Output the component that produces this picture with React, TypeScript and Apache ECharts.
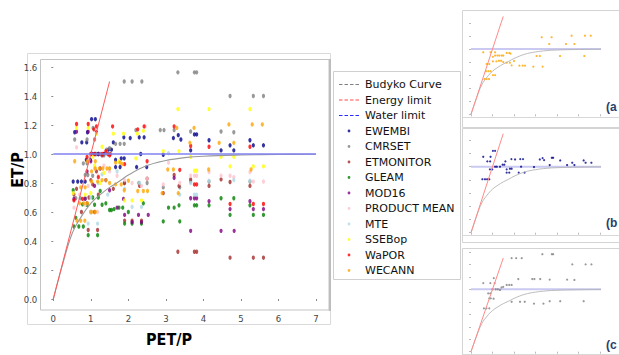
import React, { useEffect, useRef } from "react";
import * as echarts from "echarts";

// ---------- data ----------
const X_TICK_VALUES = [0, 1, 2, 3, 4, 5, 6, 7];
const Y_TICK_VALUES = [0, 0.2, 0.4, 0.6, 0.8, 1.0, 1.2, 1.4, 1.6];

const BUDYKO_X = [0, 0.25, 0.5, 0.75, 1.0, 1.25, 1.5, 1.75, 2.0, 2.5, 3.0, 3.5, 4.0, 5.0, 6.0, 7.0];
const BUDYKO_Y = [0, 0.24, 0.45, 0.57, 0.66, 0.72, 0.77, 0.81, 0.855, 0.92, 0.955, 0.975, 0.985, 0.993, 0.997, 0.998];
const ENERGY_X = [0, 1.5];
const ENERGY_Y = [0, 1.5];
const WATER_X = [0, 7];
const WATER_Y = [1, 1];

const PRODUCTS = ["EWEMBI", "CMRSET", "ETMONITOR", "GLEAM", "MOD16", "PRODUCT MEAN", "MTE", "SSEBop", "WaPOR", "WECANN"];

const EWEMBI = [
  [0.57, 1.15], [0.91, 1.15], [1.02, 1.24], [1.12, 1.24], [0.76, 1.08], [0.89, 1.08], [0.53, 0.81], [0.65, 0.81],
  [0.75, 0.81], [0.85, 0.81], [0.88, 0.96], [0.99, 0.96], [1.12, 1.0], [1.2, 1.0], [1.35, 1.0], [1.47, 1.03],
  [1.55, 1.03], [1.6, 1.08], [1.66, 0.96], [1.81, 0.97], [1.89, 0.97], [1.66, 0.91], [1.78, 0.91], [2.22, 0.91],
  [2.49, 0.91], [1.88, 1.115], [2.05, 1.11], [2.29, 1.115], [2.42, 1.115], [2.33, 1.0], [2.93, 0.995], [3.2, 1.11],
  [3.33, 1.13], [3.4, 1.1], [3.66, 1.025], [3.76, 1.135], [3.82, 1.135], [4.15, 1.095], [4.47, 1.025], [4.71, 1.06],
  [4.81, 1.025], [5.24, 1.095], [5.33, 1.06], [5.6, 1.06],
];
const CMRSET = [
  [0.57, 1.1], [0.9, 1.1], [1.06, 1.18], [1.1, 1.1], [0.8, 0.935], [0.9, 0.935], [0.85, 0.855], [0.92, 0.855],
  [1.05, 0.85], [0.6, 0.695], [0.72, 0.695], [0.85, 0.695], [1.0, 1.0], [1.15, 1.0], [1.25, 1.0], [1.35, 0.99],
  [1.42, 1.03], [1.5, 1.04], [1.66, 1.07], [1.78, 1.07], [1.89, 1.07], [1.89, 1.5], [2.1, 1.5], [2.36, 1.5],
  [2.2, 1.165], [2.85, 1.165], [2.95, 1.165], [3.22, 1.165], [3.66, 1.155], [4.47, 1.155], [4.81, 1.15],
  [3.32, 1.563], [3.76, 1.563], [3.82, 1.563], [4.71, 1.4], [5.33, 1.4], [5.6, 1.4], [1.89, 0.8], [2.28, 0.8],
  [2.5, 0.8], [2.93, 0.77], [3.37, 0.77], [4.15, 0.81], [5.24, 0.81], [3.66, 0.81],
];
const ETMONITOR = [
  [0.55, 0.72], [0.62, 0.76], [0.9, 0.66], [0.93, 0.476], [1.18, 0.476], [1.0, 0.82], [1.15, 0.88], [1.3, 0.99],
  [1.45, 1.0], [1.52, 1.0], [1.2, 0.72], [1.6, 0.76], [1.9, 0.8], [1.9, 0.54], [2.1, 0.54], [2.35, 0.54], [2.3, 0.78],
  [2.5, 0.83], [0.75, 0.6], [1.1, 0.6], [1.05, 0.79], [0.95, 0.7], [2.93, 0.73], [3.22, 0.855], [3.35, 0.78],
  [3.32, 0.326], [3.66, 0.825], [3.76, 0.326], [3.82, 0.326], [4.15, 0.78], [4.47, 0.825], [4.71, 0.807],
  [4.71, 0.285], [5.24, 0.78], [5.33, 0.285], [5.6, 0.285],
];
const GLEAM = [
  [0.53, 0.75], [0.55, 0.5], [0.68, 0.5], [0.8, 0.5], [0.78, 0.653], [0.9, 0.65], [0.93, 0.44], [1.18, 0.44],
  [1.0, 0.6], [1.05, 0.7], [1.1, 0.65], [1.25, 0.745], [1.3, 0.65], [1.4, 0.66], [1.5, 0.614], [1.55, 0.614],
  [1.62, 0.62], [1.75, 0.63], [1.85, 0.63], [1.9, 0.52], [2.1, 0.52], [2.35, 0.52], [2.0, 0.6], [2.4, 0.66],
  [0.6, 0.56], [1.2, 0.7], [2.93, 0.535], [3.07, 0.63], [3.22, 0.63], [3.35, 0.646], [3.37, 0.535], [3.76, 0.646],
  [3.82, 0.646], [4.15, 0.646], [4.47, 0.695], [4.71, 0.58], [4.81, 0.695], [5.24, 0.646], [5.33, 0.58], [5.6, 0.58],
];
const MOD16 = [
  [0.62, 1.154], [0.93, 1.154], [1.15, 1.15], [0.55, 0.69], [0.85, 0.69], [1.0, 0.95], [1.05, 1.0], [1.2, 1.0],
  [1.25, 0.9], [1.4, 0.82], [1.5, 0.75], [1.87, 0.69], [1.9, 0.58], [2.27, 0.58], [2.53, 0.58], [2.1, 0.53],
  [2.35, 0.53], [1.1, 0.78], [1.7, 0.63], [0.9, 0.88], [3.22, 0.835], [3.66, 0.695], [3.66, 0.47], [3.76, 0.695],
  [3.82, 0.695], [4.15, 0.674], [4.47, 0.47], [4.71, 0.62], [4.82, 0.47], [5.24, 0.674], [5.33, 0.62], [5.6, 0.62],
];
const PRODUCT_MEAN = [
  [0.62, 1.046], [0.55, 0.63], [0.7, 0.72], [0.93, 0.78], [1.0, 0.6], [1.18, 0.6], [1.1, 0.9], [1.2, 0.85],
  [1.35, 0.92], [1.5, 0.88], [1.7, 0.85], [1.9, 0.82], [2.1, 0.8], [2.35, 0.78], [2.5, 0.83], [2.45, 1.19],
  [0.85, 0.65], [0.95, 0.96], [2.93, 0.79], [3.07, 0.94], [3.37, 0.8], [3.66, 0.85], [3.76, 0.85], [3.82, 0.85],
  [4.15, 0.875], [4.47, 0.85], [4.71, 0.85], [4.81, 0.84], [5.24, 0.875], [5.33, 0.81], [5.6, 0.81],
];
const MTE = [
  [0.93, 0.52], [1.18, 0.52], [1.0, 0.7], [1.2, 0.8], [1.3, 0.86], [1.5, 0.9], [1.7, 0.88], [2.1, 0.635],
  [2.35, 0.635], [1.9, 0.76], [2.3, 0.8], [1.45, 0.72], [3.07, 1.005], [3.37, 0.72], [3.66, 0.8], [3.76, 0.72],
  [3.82, 0.72], [4.15, 0.816], [5.24, 0.816], [4.81, 0.82],
];
const SSEBOP = [
  [0.53, 0.73], [0.62, 1.18], [0.93, 1.18], [1.05, 0.98], [1.1, 0.92], [1.15, 1.14], [1.3, 1.05], [1.35, 0.87],
  [1.6, 1.14], [1.87, 1.14], [2.24, 1.14], [2.4, 1.16], [1.9, 0.68], [2.1, 0.68], [2.35, 0.68], [1.0, 0.73],
  [1.25, 0.8], [1.75, 0.95], [2.2, 0.97], [0.85, 0.72], [2.93, 1.02], [3.35, 1.02], [3.32, 1.31], [3.66, 0.98],
  [3.76, 0.885], [3.82, 0.885], [4.15, 1.31], [4.47, 0.98], [4.71, 0.915], [4.81, 0.98], [5.24, 1.31],
  [5.33, 0.915], [5.6, 0.915],
];
const WAPOR = [
  [0.62, 1.207], [0.93, 1.207], [1.08, 1.17], [1.15, 1.19], [1.58, 1.19], [0.9, 0.98], [1.0, 1.0], [1.1, 1.0],
  [1.3, 1.0], [1.4, 1.02], [1.5, 0.99], [0.78, 0.69], [0.55, 0.68], [2.42, 1.19], [2.5, 0.95], [1.2, 0.84],
  [1.9, 0.93], [2.25, 1.17], [3.22, 1.19], [3.37, 0.89], [3.66, 1.055], [3.76, 0.79], [3.82, 0.79], [4.15, 1.05],
  [4.71, 0.655], [5.24, 1.05], [5.33, 0.655], [5.6, 0.655],
];
const WECANN = [
  [0.57, 0.95], [0.91, 0.95], [1.12, 0.95], [0.73, 0.77], [0.85, 0.77], [0.7, 0.66], [0.81, 0.66], [0.91, 0.66],
  [1.02, 0.6], [1.12, 0.6], [0.63, 0.54], [0.73, 0.54], [0.84, 0.54], [1.02, 0.88], [1.12, 0.9], [1.23, 0.9],
  [1.32, 0.9], [1.43, 0.9], [1.5, 0.9], [1.66, 0.94], [1.78, 0.94], [1.84, 0.93], [1.02, 0.81], [1.18, 0.81],
  [1.3, 0.82], [1.4, 0.82], [1.5, 0.8], [1.66, 0.79], [1.81, 0.79], [1.89, 0.75], [2.0, 0.816], [2.25, 0.745],
  [2.4, 0.745], [2.51, 0.745], [2.9, 0.73], [3.33, 0.73], [3.05, 0.893], [3.2, 0.893], [4.14, 0.893], [5.27, 0.893],
  [3.29, 1.18], [3.75, 1.18], [3.64, 1.077], [4.42, 1.077], [4.81, 1.077], [4.68, 1.204], [5.3, 1.204], [5.57, 1.204],
];

const PRODUCT_DATA = [EWEMBI, CMRSET, ETMONITOR, GLEAM, MOD16, PRODUCT_MEAN, MTE, SSEBOP, WAPOR, WECANN];
const CURVE_NAMES = ["Budyko Curve", "Energy limit", "Water limit"];
const PANEL_LABELS = ["(a", "(b", "(c"];
const PANEL_PRODUCTS = ["WECANN", "EWEMBI", "CMRSET"];

// ---------- styles ----------
const COLORS: Record<string, string> = {
  EWEMBI: "#00008b",
  CMRSET: "#808080",
  ETMONITOR: "#a52a2a",
  GLEAM: "#008000",
  MOD16: "#800080",
  "PRODUCT MEAN": "#ffc0cb",
  MTE: "#add8e6",
  SSEBop: "#ffff00",
  WaPOR: "#ff0000",
  WECANN: "#ffa500",
};
const LEGEND_LINE_COLORS = ["#808080", "#ff4d4d", "#2b2bff"];
const NARROW = '"Liberation Sans Narrow","DejaVu Sans Condensed","Arial Narrow",sans-serif';
const DOT_ICON = "path://M0,0M20,11M11.4,5.5A1.4,1.4,0,1,1,8.6,5.5A1.4,1.4,0,1,1,11.4,5.5Z";
const DASH_ICON = "path://M0,0M20,11M0,5h3.5v1.1h-3.5zM5.5,5h3.5v1.1h-3.5zM11,5h3.5v1.1h-3.5zM16.5,5h3.5v1.1h-3.5z";

const PANELS = [
  { grid: { left: 471, right: 19, top: 22.9, bottom: 240.7 }, ymax: 1.4, frame: [462.5, 10.5, 160, 117], axisY: 117.5, labelY: 106.7 },
  { grid: { left: 471, right: 19, top: 140.3, bottom: 122.3 }, ymax: 1.4, frame: [462.5, 128.5, 160, 114], axisY: 235.5, labelY: 223.3 },
  { grid: { left: 471, right: 19, top: 251.9, bottom: 3.3 }, ymax: 1.6, frame: [462.5, 248.5, 160, 110], axisY: 354.5, labelY: 344.5 },
];

const zip = (xs: number[], ys: number[]) => xs.map((x, i) => [x, ys[i]]);

export default function App() {
  const ref = useRef<HTMLDivElement>(null);
  useEffect(() => {
    if (!ref.current) return;
    const chart = echarts.init(ref.current, undefined, { renderer: "svg" });

    const grids: any[] = [{ left: 53.3, right: 303, top: 67, bottom: 56 }];
    const xAxes: any[] = [
      {
        gridIndex: 0, type: "value", min: X_TICK_VALUES[0], max: X_TICK_VALUES[X_TICK_VALUES.length - 1], interval: 1, offset: 11,
        axisLine: { show: false }, splitLine: { show: false },
        axisTick: { show: true, length: 2, lineStyle: { color: "#888" } },
        axisLabel: { margin: 3, fontSize: 9.5, color: "#444", fontFamily: NARROW, formatter: (v: number) => String(v) },
      },
    ];
    const yAxes: any[] = [
      {
        gridIndex: 0, type: "value", min: Y_TICK_VALUES[0], max: Y_TICK_VALUES[Y_TICK_VALUES.length - 1], interval: 0.2, offset: 13,
        axisLine: { show: false }, splitLine: { show: false },
        axisTick: { show: true, length: 2, lineStyle: { color: "#888" } },
        axisLabel: { margin: 3, fontSize: 9.5, color: "#444", fontFamily: NARROW, formatter: (v: number) => v.toFixed(1) },
      },
    ];

    const series: any[] = [
      { name: CURVE_NAMES[0], type: "line", xAxisIndex: 0, yAxisIndex: 0, data: zip(BUDYKO_X, BUDYKO_Y), smooth: 0.4, symbol: "none", z: 4, itemStyle: { color: "#9a9a9a" }, lineStyle: { color: "#9a9a9a", width: 1.1 } },
      { name: CURVE_NAMES[1], type: "line", xAxisIndex: 0, yAxisIndex: 0, data: zip(ENERGY_X, ENERGY_Y), symbol: "none", z: 4, itemStyle: { color: "#ff5a5a" }, lineStyle: { color: "#ff5a5a", width: 1 } },
      { name: CURVE_NAMES[2], type: "line", xAxisIndex: 0, yAxisIndex: 0, data: zip(WATER_X, WATER_Y), symbol: "none", z: 4, itemStyle: { color: "#8080f0" }, lineStyle: { color: "#8080f0", width: 1.6 } },
    ];
    PRODUCTS.forEach((p, i) => {
      series.push({
        name: p, type: "scatter", xAxisIndex: 0, yAxisIndex: 0, data: PRODUCT_DATA[i],
        symbol: "circle", symbolSize: [3.2, 4.4], itemStyle: { color: COLORS[p] }, z: 3,
      });
    });

    const graphics: any[] = [
      { type: "rect", shape: { x: 27.5, y: 53.5, width: 303, height: 271 }, style: { fill: "none", stroke: "#dadada", lineWidth: 1 }, z: -1 },
      { type: "rect", shape: { x: 40.5, y: 59.5, width: 288.5, height: 250.5 }, style: { fill: "none", stroke: "#c4c4c4", lineWidth: 1 }, z: -1 },
      { type: "line", shape: { x1: 330, y1: 59, x2: 330, y2: 311 }, style: { stroke: "#bdbdbd", lineWidth: 2 }, z: -1 },
      { type: "rect", shape: { x: 333.5, y: 71.5, width: 127, height: 208 }, style: { fill: "#fff", stroke: "#cfcfcf", lineWidth: 1 }, z: -1 },
      {
        type: "text", x: 17.5, y: 170, rotation: Math.PI / 2,
        style: { text: "ET/P", fontSize: 16, fontWeight: "bold", fontFamily: NARROW, fill: "#000", align: "center", verticalAlign: "middle" },
      },
      {
        type: "text", x: 169, y: 339,
        style: { text: "PET/P", fontSize: 16, fontWeight: "bold", fontFamily: NARROW, fill: "#000", align: "center", verticalAlign: "middle" },
      },
    ];

    PANELS.forEach((pn, k) => {
      const gi = k + 1;
      grids.push({ ...pn.grid });
      xAxes.push({
        gridIndex: gi, type: "value", min: 0, max: 6, interval: 1, offset: 3,
        axisLine: { show: false }, splitLine: { show: false },
        axisTick: { show: true, length: 2, lineStyle: { color: "#bbb" } }, axisLabel: { show: false },
      });
      yAxes.push({
        gridIndex: gi, type: "value", min: 0, max: pn.ymax, interval: 0.2, offset: 8,
        axisLine: { show: false }, splitLine: { show: false },
        axisTick: { show: true, length: 2, lineStyle: { color: "#bbb" } }, axisLabel: { show: false },
      });
      series.push(
        { name: CURVE_NAMES[0], type: "line", xAxisIndex: gi, yAxisIndex: gi, data: zip(BUDYKO_X, BUDYKO_Y), smooth: 0.4, symbol: "none", clip: false, z: 4, lineStyle: { color: "#b4b4b4", width: 0.9 } },
        { name: CURVE_NAMES[1], type: "line", xAxisIndex: gi, yAxisIndex: gi, data: zip(ENERGY_X, ENERGY_Y), symbol: "none", clip: false, z: 4, lineStyle: { color: "#ff8a8a", width: 1 } },
        { name: CURVE_NAMES[2], type: "line", xAxisIndex: gi, yAxisIndex: gi, data: zip(WATER_X, WATER_Y), symbol: "none", clip: false, z: 2, lineStyle: { color: "#c9c9f2", width: 2 } },
      );
      const prod = PANEL_PRODUCTS[k];
      series.push({
        name: prod, type: "scatter", xAxisIndex: gi, yAxisIndex: gi, data: PRODUCT_DATA[PRODUCTS.indexOf(prod)],
        symbol: "circle", symbolSize: 2.2, itemStyle: { color: COLORS[prod] }, z: 3,
      });
      const [fx, fy, fw, fh] = pn.frame;
      graphics.push(
        { type: "rect", shape: { x: fx, y: fy, width: fw, height: fh }, style: { fill: "none", stroke: "#d4d4d4", lineWidth: 1 }, z: -1 },
        { type: "line", shape: { x1: 463, y1: pn.axisY, x2: 619, y2: pn.axisY }, style: { stroke: "#d8d8d8", lineWidth: 1 }, z: -1 },
        {
          type: "text", x: 606, y: pn.labelY,
          style: { text: PANEL_LABELS[k], fontSize: 12, fontWeight: "bold", fontFamily: "Liberation Sans, sans-serif", fill: "#2a3f6b", align: "left", verticalAlign: "middle" },
        },
      );
    });

    const legendData: any[] = [
      ...CURVE_NAMES.map((n, i) => ({ name: n, icon: DASH_ICON, itemStyle: { color: LEGEND_LINE_COLORS[i], borderWidth: 0 } })),
      ...PRODUCTS.map((p) => ({ name: p, icon: DOT_ICON, itemStyle: { color: COLORS[p], borderWidth: 0 } })),
    ];

    chart.setOption({
      animation: false,
      grid: grids,
      xAxis: xAxes,
      yAxis: yAxes,
      legend: {
        orient: "vertical", left: 334, top: 74, itemWidth: 20, itemHeight: 11, itemGap: 4.5,
        selectedMode: false,
        textStyle: { fontSize: 11, fontFamily: "DejaVu Sans", color: "#111", padding: [0, 0, 0, 1] },
        data: legendData,
      },
      graphic: graphics,
      series,
    });
    return () => chart.dispose();
  }, []);
  return <div ref={ref} style={{ position: "absolute", left: 0, top: 0, width: 619, height: 355 }} />;
}
